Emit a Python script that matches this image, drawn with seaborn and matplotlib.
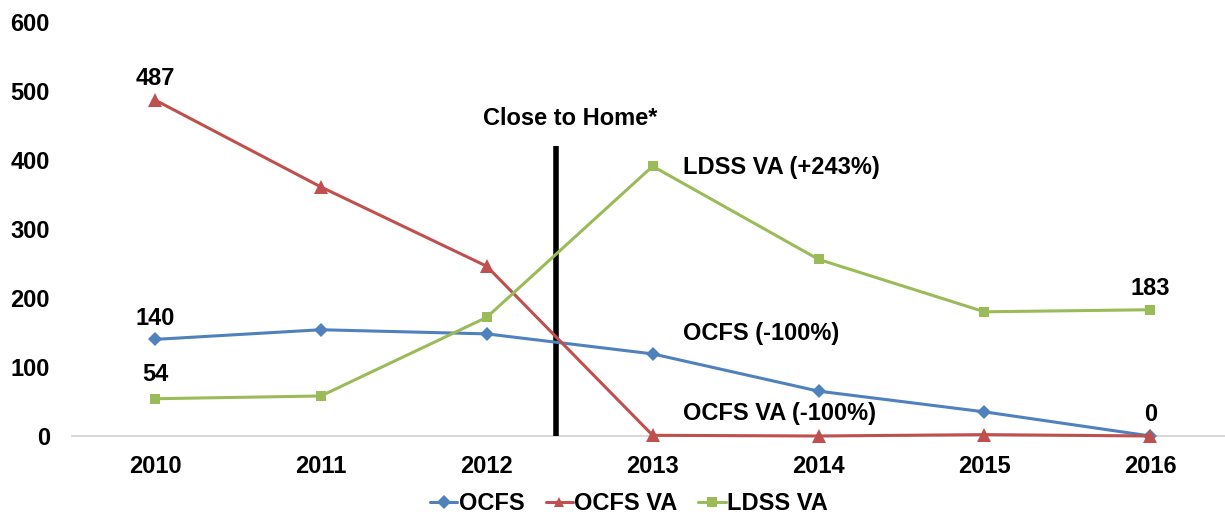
import pandas as pd
import seaborn as sns
import matplotlib.pyplot as plt

years = ['2010', '2011', '2012', '2013', '2014', '2015', '2016']
ocfs = [140, 154, 148, 119, 65, 35, 0]
ocfs_va = [487, 361, 246, 1, 0, 2, 0]
ldss_va = [54, 58, 172, 391, 256, 180, 183]

sns.set_style('white')
plt.rcParams['font.family'] = ['Liberation Sans', 'DejaVu Sans']
plt.rcParams['font.weight'] = 'bold'
plt.rcParams['text.color'] = 'black'
plt.rcParams['xtick.color'] = 'black'
plt.rcParams['ytick.color'] = 'black'

df = pd.DataFrame({'year': years * 3,
                   'value': ocfs + ocfs_va + ldss_va,
                   'series': ['OCFS'] * 7 + ['OCFS VA'] * 7 + ['LDSS VA'] * 7})
df['pos'] = list(range(7)) * 3

colors = {'OCFS': '#4F81BD', 'OCFS VA': '#C0504D', 'LDSS VA': '#9BBB59'}
markers = {'OCFS': 'D', 'OCFS VA': '^', 'LDSS VA': 's'}
msize = {'OCFS': 7, 'OCFS VA': 10, 'LDSS VA': 7.5}
fs = 17

fig = plt.figure(figsize=(12.25, 5.19), dpi=100)
ax = fig.add_axes([72 / 1225, 1 - 436 / 519, 1 - 72 / 1225, (436 - 22) / 519])

sns.lineplot(data=df, x='pos', y='value', hue='series', style='series',
             palette=colors, markers=markers, dashes=False, linewidth=2.2,
             markersize=8, markeredgewidth=0, ax=ax)
for line, name in zip(ax.lines, ['OCFS', 'OCFS VA', 'LDSS VA']):
    line.set_markersize(msize[name])
    line.set_clip_on(False)
    line.set_zorder(3)

ax.set_xlim(-0.5, 6.45)
ax.set_ylim(0, 600)
ax.set_xticks(range(7))
ax.set_xticklabels(years)
ax.set_yticks(range(0, 601, 100))
ax.tick_params(axis='both', labelsize=fs, length=0)
ax.tick_params(axis='x', pad=14)
ax.tick_params(axis='y', pad=16)
for lab in ax.get_xticklabels() + ax.get_yticklabels():
    lab.set_fontweight('bold')
ax.set_xlabel('')
ax.set_ylabel('')
for s in ['top', 'right', 'left']:
    ax.spines[s].set_visible(False)
ax.spines['bottom'].set_color('#D0D0D0')
ax.spines['bottom'].set_linewidth(1.2)
ax.spines['bottom'].set_zorder(1)

# policy marker
ax.plot([2.42, 2.42], [0, 420], color='black', linewidth=4, solid_capstyle='butt', clip_on=False)
ax.text(2.5, 443, 'Close to Home*', ha='center', va='bottom', fontsize=fs, fontweight='bold')

# value labels
kw = dict(ha='center', va='bottom', fontsize=fs, fontweight='bold')
ax.text(0, ocfs_va[0] + 14, str(ocfs_va[0]), **kw)
ax.text(0, ocfs[0] + 14, str(ocfs[0]), **kw)
ax.text(0, ldss_va[0] + 18, str(ldss_va[0]), **kw)
ax.text(6, ldss_va[6] + 14, str(ldss_va[6]), **kw)
ax.text(6, ocfs[6] + 14, str(ocfs[6]), **kw)

kw2 = dict(ha='left', va='center', fontsize=fs, fontweight='bold')
ax.text(3.18, 389, 'LDSS VA (+243%)', **kw2)
ax.text(3.18, 148, 'OCFS (-100%)', **kw2)
ax.text(3.18, 33, 'OCFS VA (-100%)', **kw2)

leg = ax.legend(loc='upper center', bbox_to_anchor=(0.483, -0.085), ncol=3, frameon=False,
                prop={'size': fs, 'weight': 'bold'}, handlelength=1.15, handletextpad=0.05,
                columnspacing=0.9)
for h in leg.legend_handles:
    h.set_markersize(7)

fig.savefig('out.png', dpi=100)
